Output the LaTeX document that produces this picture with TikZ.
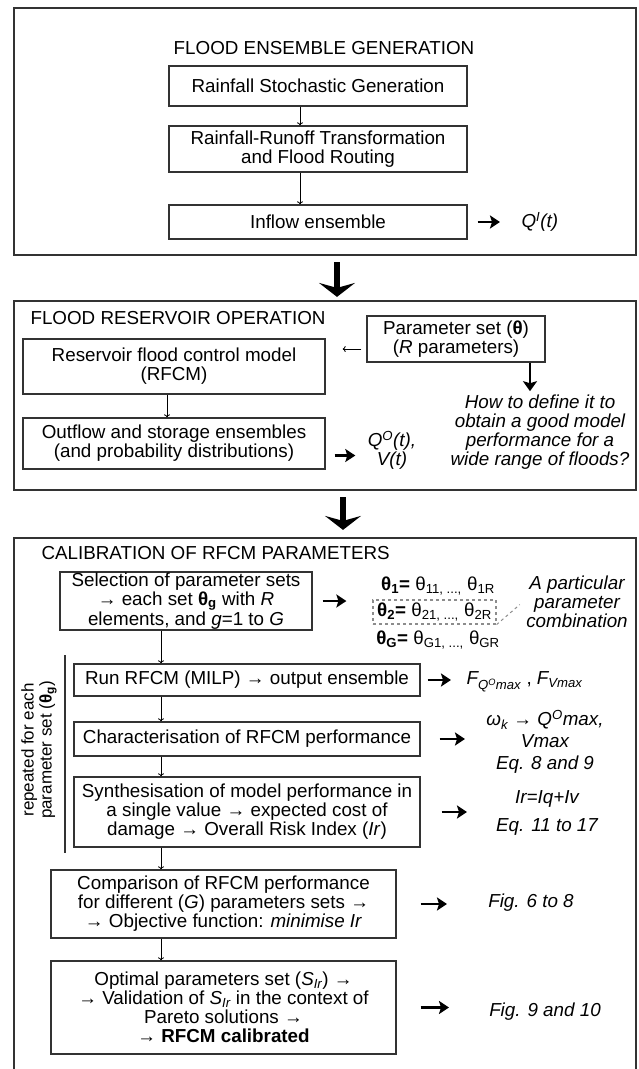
\documentclass[tikz,border=0pt]{standalone}
\usepackage{fontspec}
\setmainfont{Liberation Sans}
\usetikzlibrary{positioning}
\usetikzlibrary{arrows.meta}
\definecolor{edge}{HTML}{333333}
\definecolor{dashgrey}{HTML}{8C8C8C}

\begin{document}
\begin{tikzpicture}[x=1pt,y=-1pt,
    font=\fontsize{18.8}{19}\selectfont,
    frame/.style={draw=edge, line width=2.2pt, inner sep=0pt},
    box/.style={draw=edge, line width=1.3pt, align=center, inner sep=0pt},
    note/.style={align=center, font=\fontsize{18.8}{19}\selectfont\itshape},
    thinarrow/.style={-{To[length=3pt,width=6pt]}, line width=0.8pt},
    outarrow/.style={-{Stealth[length=10pt,width=13pt,inset=2pt]}, line width=2.6pt},
    midarrow/.style={-{Stealth[length=10pt,width=14pt,inset=2pt]}, line width=2.6pt},
    bigarrow/.style={-{Stealth[length=14pt,width=36pt,inset=5pt]}, line width=6pt},
  ]
  \useasboundingbox (0,0) rectangle (638,1069);

  % the three stages
  \node[frame, minimum width=622, minimum height=247] (fgen) at (325,131.5) {};
  \node[frame, minimum width=622, minimum height=189] (fres) at (325,395.5) {};
  \node[frame, minimum width=622, minimum height=540] (fcal) at (325,808) {};
  \draw[bigarrow, shorten <=6pt, shorten >=3pt] ([xshift=12pt]fgen.south) -- ([xshift=12pt]fres.north);
  \draw[bigarrow, shorten <=6pt, shorten >=7pt] ([xshift=18pt]fres.south) -- ([xshift=18pt]fcal.north);

  % flood ensemble generation
  \node (tgen) at (324,48) {FLOOD ENSEMBLE GENERATION};
  \node[box, minimum width=298, minimum height=40] (rain) at (318,86) {Rainfall Stochastic Generation};
  \node[box, minimum width=298, minimum height=46] (runoff) at (318,149) {Rainfall-Runoff Transformation\\and Flood Routing};
  \node[box, minimum width=298, minimum height=34] (inflow) at (318,222) {Inflow ensemble};
  \node[anchor=west] (qin) at (518,222) {\textit{Q\textsuperscript{I}(t)}};
  \coordinate (ax1) at (300,0);
  \draw[thinarrow] (rain.south -| ax1) -- (runoff.north -| ax1);
  \draw[thinarrow] (runoff.south -| ax1) -- (inflow.north -| ax1);
  \draw[outarrow, shorten <=10pt, shorten >=18pt] (inflow.east) -- (qin.west);

  % flood reservoir operation
  \node[anchor=west] (tres) at (27,318) {FLOOD RESERVOIR OPERATION};
  \node[box, minimum width=178, minimum height=46] (param) at (456,339) {Parameter set (\textbf{θ})\\(\textit{R} parameters)};
  \node[box, minimum width=302, minimum height=55] (rfcm) at (174,366.5) {Reservoir flood control model\\(RFCM)};
  \node[box, minimum width=302, minimum height=51] (outflow) at (174,443.5) {Outflow and storage ensembles\\(and probability distributions)};
  \node[note] (qout) at (392,450) {Q\textsuperscript{O}(t),\\V(t)};
  \node[note] (how) at (540,432) {How to define it to\\obtain a good model\\performance for a\\wide range of floods?};
  \coordinate (pl) at ([yshift=-10pt]param.west);
  \draw[thinarrow, shorten <=5pt, shorten >=17pt] (pl) -- (pl -| rfcm.east);
  \draw[thinarrow] ([xshift=-7pt]rfcm.south) -- ([xshift=-7pt]outflow.north);
  \coordinate (oa) at ([yshift=-12pt]outflow.east);
  \draw[outarrow, shorten <=9pt, shorten >=9pt] (oa) -- (oa -| qout.west);
  \coordinate (pd) at ([xshift=74pt]param.south);
  \draw[midarrow] (pd) -- (pd |- how.north);

  % calibration of RFCM parameters
  \node[anchor=west] (tcal) at (38,553) {CALIBRATION OF RFCM PARAMETERS};
  \node[box, minimum width=252, minimum height=58] (sel) at (186,601) {Selection of parameter sets\\→ each set \textbf{θ\textsubscript{g}} with \textit{R}\\elements, and \textit{g}=1 to \textit{G}};
  \node[dashed, draw=dashgrey, line width=1.2pt, minimum width=123, minimum height=24, inner sep=0pt] (th2) at (434.5,612) {\textbf{θ\textsubscript{2}=} θ\textsubscript{21, ...,} θ\textsubscript{2R}};
  \node (th1) at (438,586) {\textbf{θ\textsubscript{1}=} θ\textsubscript{11, ...,} θ\textsubscript{1R}};
  \node (thG) at (438,640) {\textbf{θ\textsubscript{G}=} θ\textsubscript{G1, ...,} θ\textsubscript{GR}};
  \node[note] (comb) at (577,602) {A particular\\parameter\\combination};
  \draw[dashed, draw=dashgrey, line width=1pt, shorten >=4pt] (th2.south east) -- (comb.west);
  \draw[outarrow, shorten <=10pt, shorten >=26pt] (sel.east) -- (sel.east -| th2.west);

  \draw[edge, line width=1.5pt] (65,655) -- (65,853);
  \node[rotate=90, align=center, font=\fontsize{17}{18}\selectfont] (rep) at (39,750) {repeated for each\\parameter set (\textbf{θ\textsubscript{g}})};

  \node[box, minimum width=346, minimum height=32] (run) at (247,680) {Run RFCM (MILP) → output ensemble};
  \node[box, minimum width=346, minimum height=34] (char) at (247,739) {Characterisation of RFCM performance};
  \node[box, minimum width=346, minimum height=70] (synth) at (247,812) {Synthesisation of model performance in\\a single value → expected cost of\\damage → Overall Risk Index (\textit{Ir})};
  \node[box, minimum width=345, minimum height=68] (comp) at (223.5,904) {Comparison of RFCM performance\\for different (\textit{G}) parameters sets →\\→ Objective function: \textit{minimise Ir}};
  \node[box, minimum width=345, minimum height=93] (opt) at (223.5,1007.5) {Optimal parameters set (\textit{S\textsubscript{Ir}}) →\\→ Validation of \textit{S\textsubscript{Ir}} in the context of\\Pareto solutions →\\→ \textbf{RFCM calibrated}};

  \coordinate (ax3) at (161,0);
  \draw[thinarrow] (sel.south -| ax3) -- (run.north -| ax3);
  \draw[thinarrow] (run.south -| ax3) -- (char.north -| ax3);
  \draw[thinarrow] (char.south -| ax3) -- (synth.north -| ax3);
  \draw[thinarrow] (synth.south -| ax3) -- (comp.north -| ax3);
  \draw[thinarrow] (comp.south -| ax3) -- (opt.north -| ax3);

  % results of each step
  \node[anchor=west] (fmax) at (463,682) {\textit{F\textsubscript{Q\textsuperscript{O}max}} , \textit{F\textsubscript{Vmax}}};
  \node[note] (omega) at (545,742) {ω\textsubscript{k} → Q\textsuperscript{O}max,\\[3pt]Vmax\\[3pt]Eq. 8 and 9};
  \node[note] (irtxt) at (547,813) {Ir=Iq+Iv\\[9pt]Eq. 11 to 17};
  \node[note] (fig68) at (531,903) {Fig. 6 to 8};
  \node[note] (fig910) at (545,1012) {Fig. 9 and 10};
  \coordinate (charend) at (465,739);
  \coordinate (synthend) at (467,812);
  \coordinate (compend) at (447,904);
  \coordinate (optend) at (449,1007.5);
  \draw[outarrow, shorten <=7pt, shorten >=12pt] (run.east) -- (run.east -| fmax.west);
  \draw[outarrow, shorten <=19pt] (char.east) -- (charend);
  \draw[outarrow, shorten <=21pt] (synth.east) -- (synthend);
  \draw[outarrow, shorten <=24pt] (comp.east) -- (compend);
  \draw[outarrow, shorten <=24pt] (opt.east) -- (optend);
\end{tikzpicture}
\end{document}
